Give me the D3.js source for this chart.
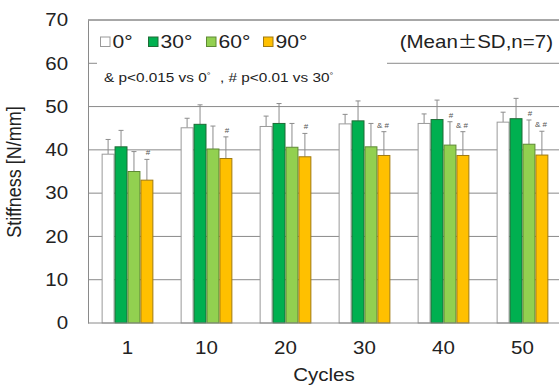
<!DOCTYPE html>
<html><head><meta charset="utf-8">
<script src="https://cdn.jsdelivr.net/npm/d3@7"></script>
<style>body{margin:0;background:#fff}svg{display:block}text{font-family:"Liberation Sans",Arial,sans-serif}</style>
</head><body>
<script>
const categories = ["1","10","20","30","40","50"];
const seriesNames = ["0°","30°","60°","90°"];
const mean0  = [39.0,45.1,45.4,46.0,46.1,46.4];
const mean30 = [40.7,45.9,46.1,46.7,47.0,47.2];
const mean60 = [35.0,40.2,40.6,40.7,41.1,41.3];
const mean90 = [33.0,38.0,38.4,38.7,38.7,38.8];
const sd0  = [3.4,2.2,2.4,2.2,2.2,2.3];
const sd30 = [3.8,4.5,4.6,4.6,4.5,4.7];
const sd60 = [4.6,5.3,5.5,5.4,5.4,5.6];
const sd90 = [4.8,5.0,5.4,5.5,5.5,5.5];
// significance marks: [categoryIndex, seriesIndex, label]
const sigMarks = [[0,3,"#"],[1,3,"#"],[2,3,"#"],[3,3,"& #"],[4,2,"#"],[4,3,"& #"],[5,2,"#"],[5,3,"& #"]];
const yTicks = [0,10,20,30,40,50,60,70];

const means = [mean0, mean30, mean60, mean90];
const sds = [sd0, sd30, sd60, sd90];
const fills = ["#ffffff","#00b050","#92d050","#ffc000"];
const strokes = ["#9a9a9a","#1f6b36","#5e8a34","#a07a10"];
const SX = 1.14; // horizontal stretch of the reference lettering

const W = 559, H = 385;
const svg = d3.select("body").append("svg").attr("width",W).attr("height",H);

const x0 = d3.scaleBand().domain(categories).range([88, 88+79*6]).paddingInner(0.345).paddingOuter(0.1725);
const x1 = d3.scaleBand().domain(d3.range(4)).range([0, x0.bandwidth()]);
const y = d3.scaleLinear().domain([0,70]).range([323,20]);

function stretchedText(g, x, yy, txt, size, anchor){
  return g.append("text").attr("transform",`translate(${x},${yy}) scale(${SX},1)`)
    .attr("text-anchor",anchor||"start").attr("font-size",size).attr("fill","#222").text(txt);
}

// gridlines
svg.append("g").selectAll("line").data(yTicks.filter(t=>t>0)).join("line")
  .attr("x1",88).attr("x2",W+10).attr("y1",d=>y(d)).attr("y2",d=>y(d))
  .attr("stroke","#8a8a8a").attr("stroke-width",1);

// legend background hiding gridline at 60
svg.append("rect").attr("x",97).attr("y",24).attr("width",290).attr("height",76).attr("fill","#fff");
svg.append("rect").attr("x",390).attr("y",24).attr("width",170).attr("height",34).attr("fill","#fff");

// y axis
const yAxis = d3.axisLeft(y).tickValues(yTicks).tickSize(0).tickPadding(17.5);
const gy = svg.append("g").attr("transform","translate(88,0)").call(yAxis);
gy.select(".domain").attr("stroke","#8a8a8a");
gy.selectAll("text").attr("font-size",18).attr("fill","#222").attr("font-family","Liberation Sans, Arial, sans-serif")
  .attr("transform",`scale(${SX},1)`);

// bars
const groups = svg.append("g").selectAll("g").data(categories).join("g")
  .attr("transform",d=>`translate(${x0(d)},0)`);
groups.each(function(c,ci){
  const g = d3.select(this);
  for(let s=0;s<4;s++){
    const v = means[s][ci], e = sds[s][ci];
    const bx = x1(s), bw = x1.bandwidth();
    g.append("line").attr("x1",bx+bw/2).attr("x2",bx+bw/2).attr("y1",y(v)).attr("y2",y(v+e))
      .attr("stroke","#8c8c8c").attr("stroke-width",1);
    g.append("line").attr("x1",bx+bw/2-2.5).attr("x2",bx+bw/2+2.5).attr("y1",y(v+e)).attr("y2",y(v+e))
      .attr("stroke","#8c8c8c").attr("stroke-width",1);
  }
  for(let s=0;s<4;s++){
    const v = means[s][ci];
    const bx = x1(s), bw = x1.bandwidth();
    g.append("rect").attr("x",bx+0.5).attr("y",y(v)).attr("width",bw-1).attr("height",y(0)-y(v))
      .attr("fill",fills[s]).attr("stroke",strokes[s]).attr("stroke-width",1);
  }
});

// significance marks
svg.append("g").selectAll("text").data(sigMarks).join("text")
  .attr("x",d=>x0(categories[d[0]])+x1(d[1])+x1.bandwidth()/2 + (d[2].length>1?-1:1))
  .attr("y",d=>y(means[d[1]][d[0]]+sds[d[1]][d[0]])-4)
  .attr("text-anchor","middle").attr("font-size",8).attr("fill","#555")
  .text(d=>d[2]);

// top border and zero line
svg.append("line").attr("x1",88).attr("x2",W+10).attr("y1",y(70)).attr("y2",y(70)).attr("stroke","#8a8a8a");
svg.append("line").attr("x1",88).attr("x2",W+10).attr("y1",y(0)).attr("y2",y(0)).attr("stroke","#8a8a8a");

// x axis labels
const xAxis = d3.axisBottom(x0).tickSize(0).tickPadding(18);
const gx = svg.append("g").attr("transform",`translate(0,${y(0)})`).call(xAxis);
gx.select(".domain").remove();
gx.selectAll("text").attr("font-size",18).attr("fill","#222").attr("font-family","Liberation Sans, Arial, sans-serif")
  .attr("transform",`scale(${SX},1)`);

stretchedText(svg, 324, 381, "Cycles", 18, "middle");
svg.append("text").attr("transform",`translate(21,172) rotate(-90) scale(1,${SX})`).attr("text-anchor","middle")
  .attr("font-size",18).attr("fill","#222").text("Stiffness [N/mm]");

// legend
const lx = [100,148,206,263];
const leg = svg.append("g");
seriesNames.forEach((n,i)=>{
  leg.append("rect").attr("x",lx[i]+0.5).attr("y",37).attr("width",9.5).attr("height",9.5)
    .attr("fill",fills[i]).attr("stroke",strokes[i]).attr("stroke-width",1);
  stretchedText(leg, lx[i]+12.5, 48, n, 18.5);
});
const mt = svg.append("text").attr("transform",`translate(553,47.5) scale(${SX},1)`).attr("text-anchor","end")
  .attr("font-size",18).attr("fill","#222");
mt.append("tspan").text("(Mean");
mt.append("tspan").attr("font-family","Noto Sans CJK JP").attr("font-size",17).text("±");
mt.append("tspan").text("SD,n=7)");

const ann = svg.append("text").attr("transform",`translate(104,82) scale(1.18,1)`).attr("font-size",13).attr("fill","#222");
ann.append("tspan").text("& p<0.015 vs 0");
ann.append("tspan").attr("font-size",8).attr("dy",-4.5).text("°");
const ann2 = svg.append("text").attr("transform",`translate(220,82) scale(1.18,1)`).attr("font-size",13).attr("fill","#222");
ann2.append("tspan").text(", # p<0.01 vs 30");
ann2.append("tspan").attr("font-size",8).attr("dy",-4.5).text("°");
</script>
</body></html>
